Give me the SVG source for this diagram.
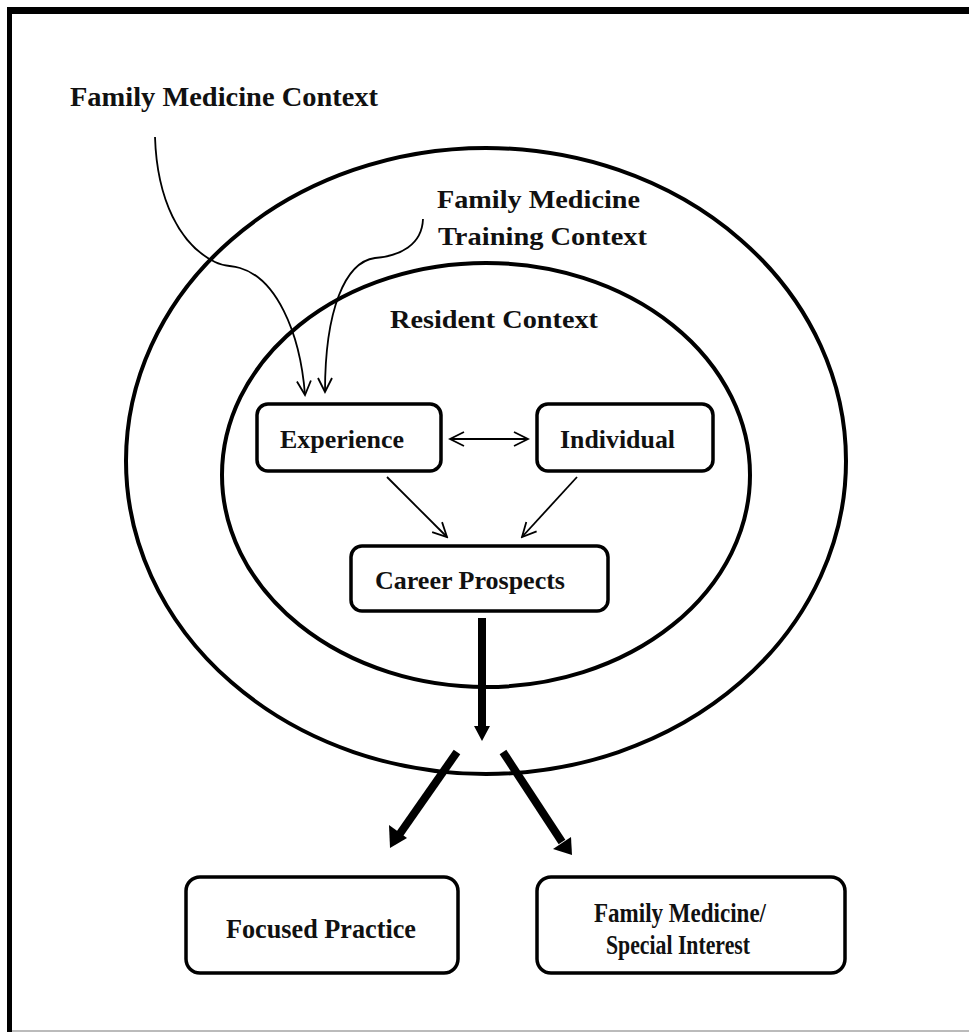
<svg xmlns="http://www.w3.org/2000/svg" width="969" height="1032" viewBox="0 0 969 1032">
<defs>
<style>
.t{font-family:"Liberation Serif","Times New Roman",serif;font-weight:bold;font-size:26px;fill:#111}
.c{font-size:28px}
.box{fill:#fff;stroke:#000;stroke-width:3.5}
.ell{fill:none;stroke:#000;stroke-width:4}
.thin{fill:none;stroke:#000;stroke-width:1.8}
.thick{fill:none;stroke:#000;stroke-width:8}
</style>
<marker id="open" viewBox="0 0 20 20" refX="18" refY="10" markerWidth="20" markerHeight="20" markerUnits="userSpaceOnUse" orient="auto-start-reverse">
<path d="M4,3 L18,10 L4,17" fill="none" stroke="#000" stroke-width="1.8"/>
</marker>
</defs>
<rect x="0" y="0" width="969" height="1032" fill="#fff"/>
<g id="frame">
<rect x="7" y="7" width="962" height="7" fill="#000"/>
<rect x="7" y="7" width="5" height="1025" fill="#000"/>
<rect x="12" y="1030" width="957" height="2" fill="#bbb"/>
</g>
<g id="contexts">
<ellipse id="outer" class="ell" cx="486" cy="461" rx="360" ry="313"/>
<ellipse id="inner" class="ell" cx="486" cy="475" rx="264" ry="212"/>
</g>
<g id="labels">
<text class="t c" x="70" y="106" textLength="308" lengthAdjust="spacingAndGlyphs">Family Medicine Context</text>
<text class="t" x="437" y="208" textLength="203" lengthAdjust="spacingAndGlyphs">Family Medicine</text>
<text class="t" x="438" y="245" textLength="209" lengthAdjust="spacingAndGlyphs">Training Context</text>
<text class="t" x="390" y="328" textLength="208" lengthAdjust="spacingAndGlyphs">Resident Context</text>
</g>
<g id="connectors">
<path class="thin" marker-end="url(#open)" d="M155,137 C157,200 180,245 215,262 C225,267 230,265 240,268 C275,278 300,330 305,395"/>
<path class="thin" marker-end="url(#open)" d="M423,219 C422,245 400,256 375,258 C345,262 325,310 325,392"/>
<path class="thin" marker-start="url(#open)" marker-end="url(#open)" d="M450,439 L528,439"/>
<path class="thin" marker-end="url(#open)" d="M387,477 L447,537"/>
<path class="thin" marker-end="url(#open)" d="M577,477 L522,537"/>
<path class="thick" stroke-width="7" d="M482,618 L482,729"/>
<path d="M474,726 L490,726 L482,741 Z" fill="#000"/>
<path class="thick" d="M457,752 L399,835"/>
<path d="M389,825 L407,838 L390,848 Z" fill="#000"/>
<path class="thick" d="M503,752 L562,842"/>
<path d="M553,849 L571,837 L572,855 Z" fill="#000"/>
</g>
<g id="node-experience">
<rect class="box" x="257" y="404" width="184" height="67" rx="11"/>
<text class="t" x="280" y="448" textLength="124" lengthAdjust="spacingAndGlyphs">Experience</text>
</g>
<g id="node-individual">
<rect class="box" x="537" y="404" width="176" height="67" rx="11"/>
<text class="t" x="560" y="448" textLength="115" lengthAdjust="spacingAndGlyphs">Individual</text>
</g>
<g id="node-career">
<rect class="box" x="351" y="546" width="257" height="65" rx="11"/>
<text class="t" x="375" y="589" textLength="190" lengthAdjust="spacingAndGlyphs">Career Prospects</text>
</g>
<g id="node-focused">
<rect class="box" x="186" y="877" width="272" height="96" rx="14"/>
<text class="t c" x="226" y="938" textLength="190" lengthAdjust="spacingAndGlyphs">Focused Practice</text>
</g>
<g id="node-fmsi">
<rect class="box" x="537" y="877" width="308" height="96" rx="14"/>
<text class="t c" x="594" y="922" textLength="172" lengthAdjust="spacingAndGlyphs">Family Medicine/</text>
<text class="t c" x="606" y="954" textLength="144" lengthAdjust="spacingAndGlyphs">Special Interest</text>
</g>
</svg>
